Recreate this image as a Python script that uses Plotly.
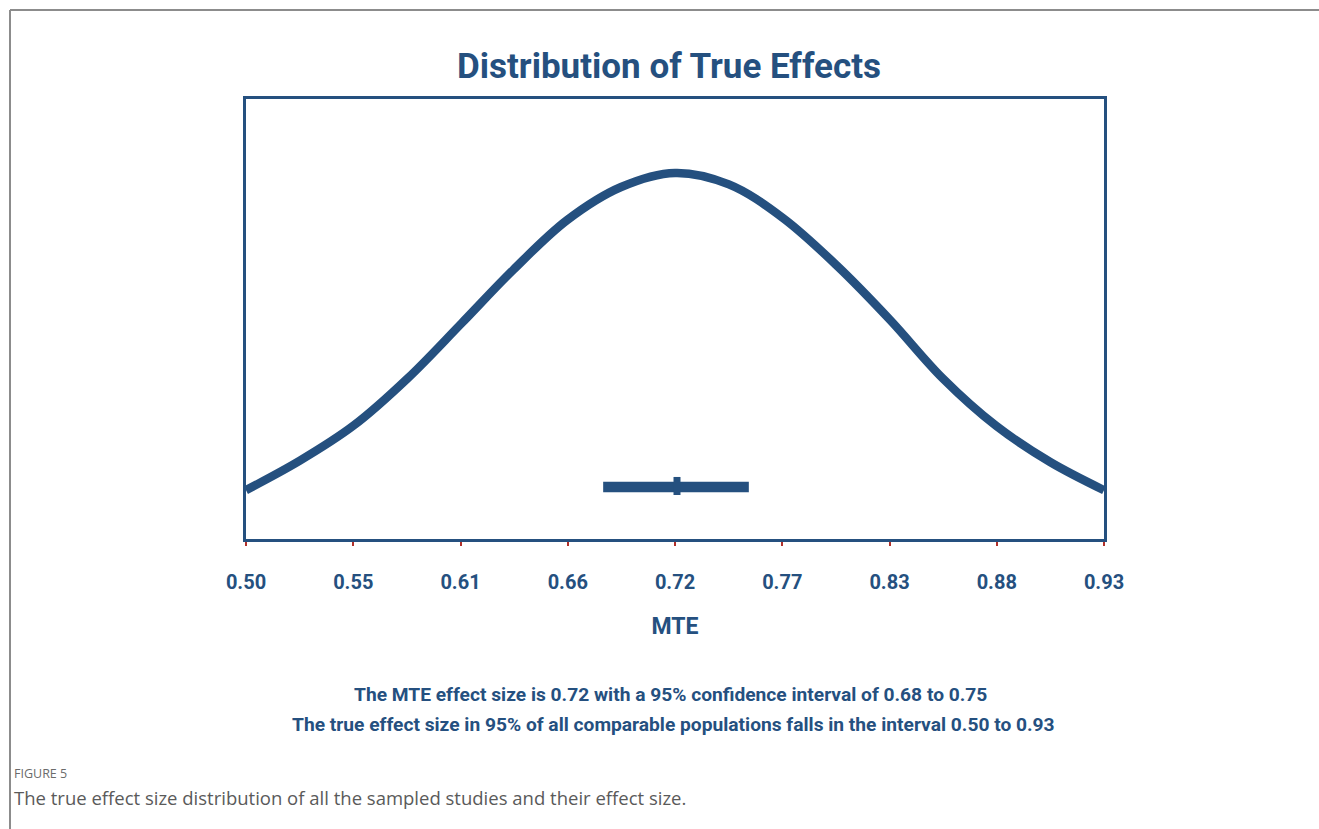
import plotly.graph_objects as go

# ---- data ----
tick_vals = [0.50, 0.55375, 0.6075, 0.66125, 0.715, 0.76875, 0.8225, 0.87625, 0.93]
tick_text = ["0.50", "0.55", "0.61", "0.66", "0.72", "0.77", "0.83", "0.88", "0.93"]

curve_x = [0.500, 0.527, 0.554, 0.581, 0.608, 0.634, 0.661, 0.688, 0.715,
           0.742, 0.769, 0.796, 0.823, 0.849, 0.876, 0.903, 0.930]
curve_y = [0.111, 0.178, 0.258, 0.365, 0.490, 0.612, 0.725, 0.800, 0.832,
           0.806, 0.730, 0.622, 0.497, 0.366, 0.257, 0.175, 0.111]

ci_x = [0.679, 0.752]
ci_y = [0.118, 0.118]
mean_x = [0.716, 0.716]
mean_y = [0.100, 0.141]

title_text = "Distribution of True Effects"
axis_title = "MTE"
note_lines = [
    "The MTE effect size is 0.72 with a 95% confidence interval of 0.68 to 0.75",
    "The true effect size in 95% of all comparable populations falls in the interval 0.50 to 0.93",
]
fig_label = "FIGURE 5"
caption = "The true effect size distribution of all the sampled studies and their effect size."

# ---- styling ----
BLUE = "#25507f"
NARROW = "Roboto, Liberation Sans, sans-serif"
CAP = "Open Sans, Noto Sans, sans-serif"
W, H = 1319, 829
L, R, T, B = 246, 1104, 99, 539  # plot-area pixel box


def px(x):
    return (x - L) / (R - L)


def py(y):
    return (B - y) / (B - T)


fig = go.Figure()
fig.add_trace(go.Scatter(x=curve_x, y=curve_y, mode="lines",
                         line=dict(color=BLUE, width=8.5, shape="spline", smoothing=1.0),
                         hoverinfo="skip", showlegend=False))
fig.add_trace(go.Scatter(x=ci_x, y=ci_y, mode="lines",
                         line=dict(color=BLUE, width=10.5),
                         hoverinfo="skip", showlegend=False))
fig.add_trace(go.Scatter(x=mean_x, y=mean_y, mode="lines",
                         line=dict(color=BLUE, width=7),
                         hoverinfo="skip", showlegend=False))

fig.update_xaxes(range=[0.50, 0.93], tickvals=tick_vals, ticktext=tick_text,
                 showgrid=False, zeroline=False, showline=True, mirror=True,
                 linecolor=BLUE, linewidth=2.5, ticks="outside", ticklen=4,
                 tickwidth=2, tickcolor="#b0302a", ticklabelstandoff=19,
                 tickfont=dict(family=NARROW, size=20, color=BLUE, weight="bold"),
                 title=dict(text=axis_title, standoff=26,
                            font=dict(family=NARROW, size=23, color=BLUE, weight="bold")))
fig.update_yaxes(range=[0, 1], showgrid=False, zeroline=False, showline=True,
                 mirror=True, linecolor=BLUE, linewidth=2.5, showticklabels=False,
                 ticks="")

annotations = [
    dict(text=title_text, x=px(669), y=py(67), xanchor="center", yanchor="middle",
         font=dict(family=NARROW, size=35, color=BLUE, weight="bold")),
    dict(text=note_lines[0], x=px(670), y=py(694), xanchor="center", yanchor="middle",
         font=dict(family=NARROW, size=19.2, color=BLUE, weight="bold")),
    dict(text=note_lines[1], x=px(673), y=py(724), xanchor="center", yanchor="middle",
         font=dict(family=NARROW, size=19.2, color=BLUE, weight="bold")),
    dict(text=fig_label, x=px(12), y=py(773), xanchor="left", yanchor="middle",
         font=dict(family=CAP, size=12.5, color="#6b6b6b")),
    dict(text=caption, x=px(12), y=py(797), xanchor="left", yanchor="middle",
         font=dict(family=CAP, size=18.5, color="#5a5a5a")),
]
for a in annotations:
    a.update(xref="paper", yref="paper", showarrow=False)

shapes = [
    dict(type="line", xref="paper", yref="paper", x0=px(10), x1=px(1319), y0=py(10), y1=py(10),
         line=dict(color="#8c8c8c", width=2)),
    dict(type="line", xref="paper", yref="paper", x0=px(10), x1=px(10), y0=py(10), y1=py(829),
         line=dict(color="#8c8c8c", width=2)),
]

fig.update_layout(width=W, height=H, margin=dict(l=L, r=W - R, t=T, b=H - B),
                  paper_bgcolor="white", plot_bgcolor="white",
                  annotations=annotations, shapes=shapes, showlegend=False)

fig.write_html("out.html")
